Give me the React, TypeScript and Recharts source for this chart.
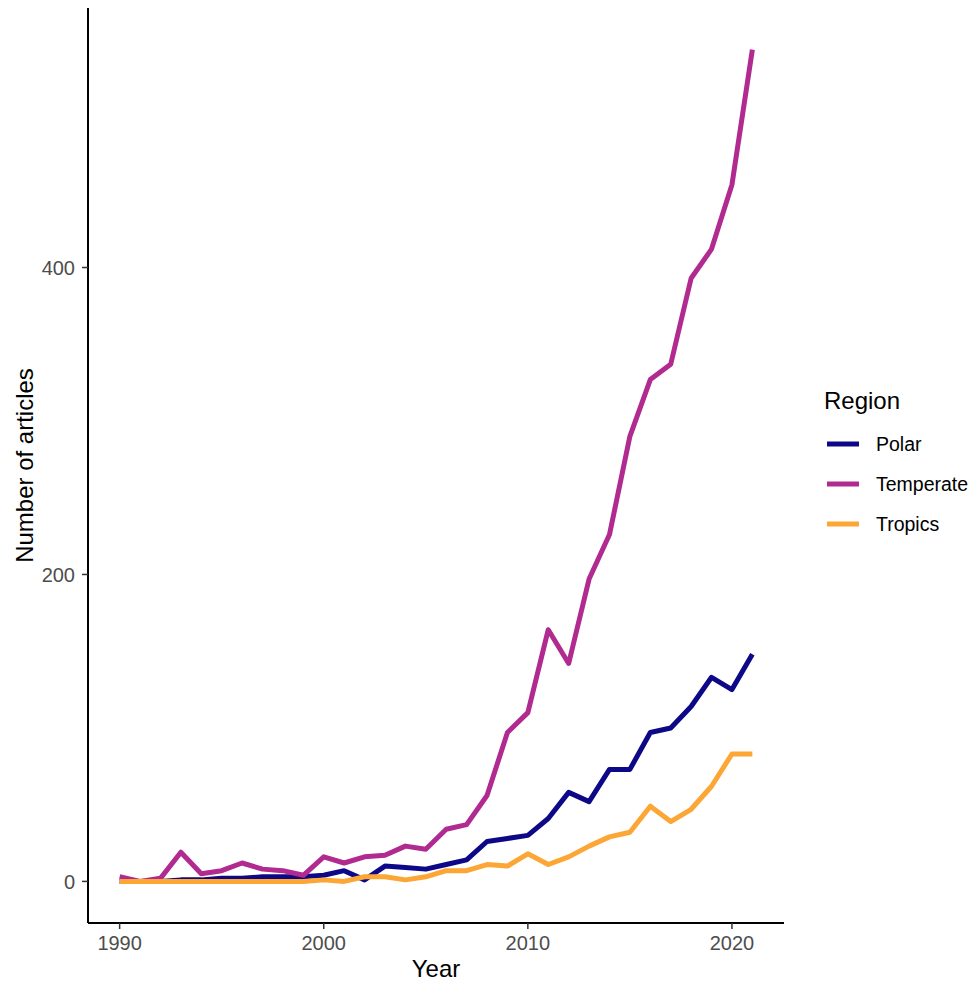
import React from 'react';
import { LineChart, Line, XAxis, YAxis, Legend } from 'recharts';

const years = [1990,1991,1992,1993,1994,1995,1996,1997,1998,1999,2000,2001,2002,2003,2004,2005,2006,2007,2008,2009,2010,2011,2012,2013,2014,2015,2016,2017,2018,2019,2020,2021];
const polar = [0,0,0,1,1,2,2,3,3,3,4,7,1,10,9,8,11,14,26,28,30,41,58,52,73,73,97,100,114,133,125,148];
const temperate = [3,0,2,19,5,7,12,8,7,4,16,12,16,17,23,21,34,37,56,97,110,164,142,197,226,290,327,337,393,412,454,542];
const tropics = [0,0,0,0,0,0,0,0,0,0,1,0,3,3,1,3,7,7,11,10,18,11,16,23,29,32,49,39,47,62,83,83];

const xTicks = [1990, 2000, 2010, 2020];
const yTicks = [0, 200, 400];

const seriesNames = ['Polar', 'Temperate', 'Tropics'];
const seriesColors = ['#0D0887', '#B12A90', '#FCA636'];

const data = years.map((year, i) => ({
  year,
  Polar: polar[i],
  Temperate: temperate[i],
  Tropics: tropics[i],
}));

const FONT = '"Liberation Sans", Arial, Helvetica, sans-serif';

const renderLegend = (props: any) => {
  const payload = (props && props.payload) || [];
  const items = payload.length
    ? payload.map((p: any) => ({ name: p.value, color: p.color }))
    : seriesNames.map((n, i) => ({ name: n, color: seriesColors[i] }));
  return (
    <svg width={165} height={160} style={{ display: 'block' }}>
      <text x={9} y={26} fontSize={24} fontFamily={FONT} fill="#000">Region</text>
      {items.map((it: any, i: number) => (
        <g key={it.name}>
          <line x1={12} x2={44} y1={61 + i * 40} y2={61 + i * 40} stroke={it.color} strokeWidth={5} />
          <text x={61} y={61 + i * 40} dy="0.35em" fontSize={19.5} fontFamily={FONT} fill="#000">{it.name}</text>
        </g>
      ))}
    </svg>
  );
};

const YLabel = (props: any) => {
  const vb = props.viewBox || { x: 0, y: 8, width: 88, height: 915 };
  const cx = 24;
  const cy = vb.y + vb.height / 2;
  return (
    <text x={cx} y={cy} transform={`rotate(-90, ${cx}, ${cy})`} textAnchor="middle" dy="0.36em" fontSize={24} fontFamily={FONT} fill="#000">
      Number of articles
    </text>
  );
};

const XLabel = (props: any) => {
  const vb = props.viewBox || { x: 88, y: 923, width: 696, height: 62 };
  const cx = vb.x + vb.width / 2;
  return (
    <text x={cx} y={977} textAnchor="middle" fontSize={24} fontFamily={FONT} fill="#000">
      Year
    </text>
  );
};

export default function App() {
  return (
    <div style={{ position: 'absolute', left: 0, top: 0, width: 980, height: 985, background: '#fff' }}>
      <LineChart
        width={980}
        height={985}
        data={data}
        margin={{ top: 8, right: 196, bottom: 0, left: 0 }}
        style={{ fontFamily: FONT }}
      >
        <XAxis
          dataKey="year"
          type="number"
          domain={[1988.45, 2022.55]}
          ticks={xTicks}
          allowDataOverflow
          height={62}
          axisLine={{ stroke: '#000', strokeWidth: 2 }}
          tickLine={{ stroke: '#333', strokeWidth: 1.5 }}
          tickSize={6}
          tickMargin={7}
          tick={{ fill: '#4D4D4D', fontSize: 20, fontFamily: FONT }}
          label={{ content: (p: any) => <XLabel {...p} /> }}
        />
        <YAxis
          type="number"
          domain={[-27.1, 569.1]}
          ticks={yTicks}
          allowDataOverflow
          width={88}
          axisLine={{ stroke: '#000', strokeWidth: 2 }}
          tickLine={{ stroke: '#333', strokeWidth: 1.5 }}
          tickSize={6}
          tickMargin={7}
          tick={{ fill: '#4D4D4D', fontSize: 20, fontFamily: FONT }}
          label={{ content: (p: any) => <YLabel {...p} /> }}
        />
        <Legend
          layout="horizontal"
          align="center"
          verticalAlign="middle"
          wrapperStyle={{ left: 815, top: 383, width: 165, height: 160 }}
          content={renderLegend}
        />
        {seriesNames.map((name, i) => (
          <Line
            key={name}
            type="linear"
            dataKey={name}
            stroke={seriesColors[i]}
            strokeWidth={5}
            dot={false}
            activeDot={false}
            isAnimationActive={false}
            strokeLinejoin="round"
          />
        ))}
      </LineChart>
    </div>
  );
}
